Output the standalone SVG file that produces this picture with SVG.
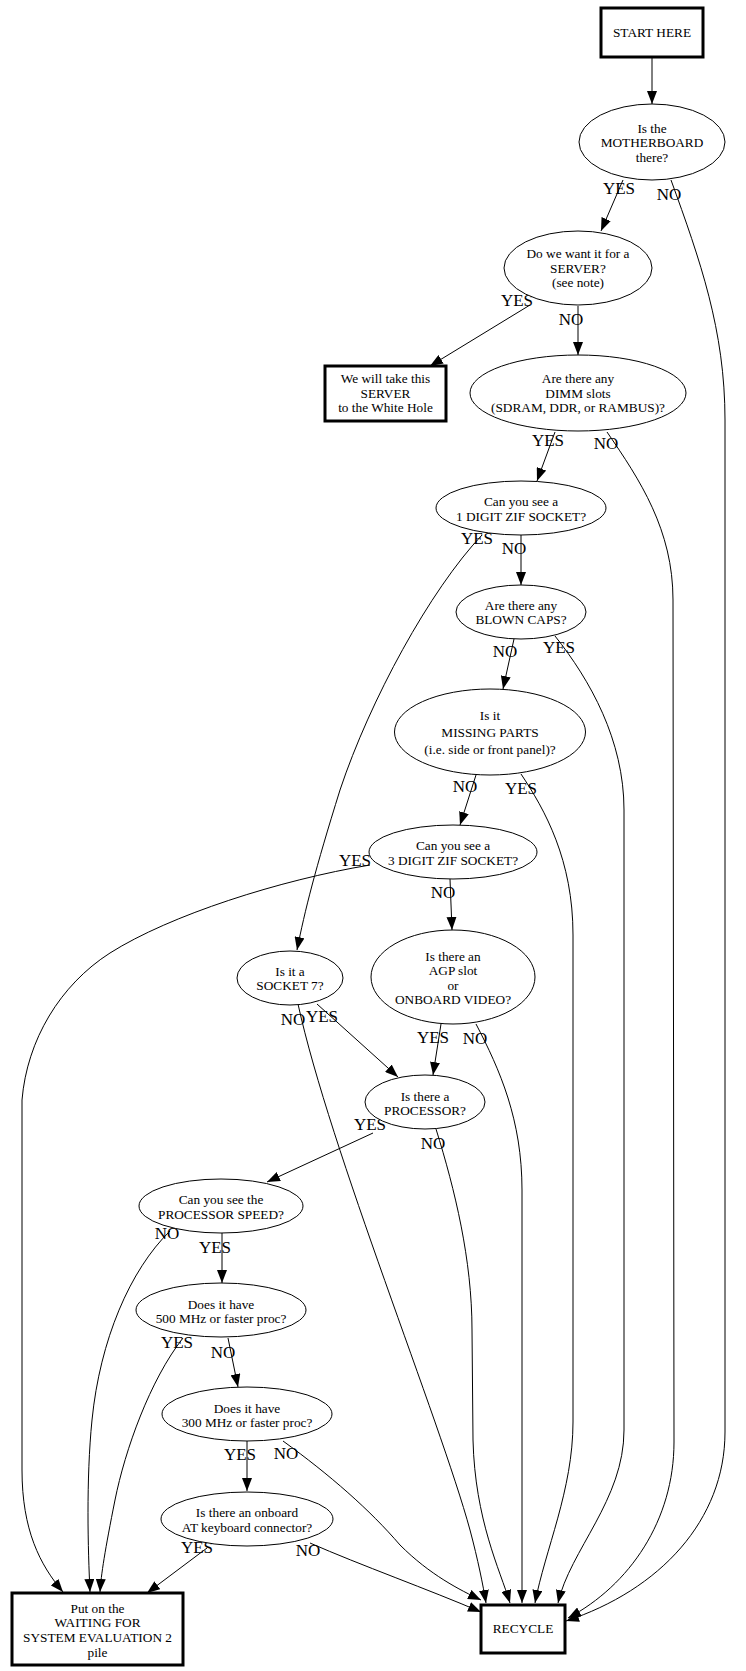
<svg xmlns="http://www.w3.org/2000/svg" width="746" height="1671" viewBox="0 0 746 1671">
<style>
.n text{font-family:"Liberation Serif","Times New Roman",serif;font-size:13.3px;text-anchor:middle;fill:#000}
.e{fill:none;stroke:#000;stroke-width:1}
.box{fill:#fff;stroke:#000;stroke-width:3}
.ell{fill:#fff;stroke:#000;stroke-width:1}
.lbl{font-family:"Liberation Serif","Times New Roman",serif;font-size:17px;text-anchor:middle;fill:#000}
</style>
<defs>
<marker id="ah" markerUnits="userSpaceOnUse" markerWidth="13" markerHeight="10" viewBox="0 0 13 10" refX="13" refY="5" orient="auto">
<path d="M0,0 L13,5 L0,10 z" fill="#000"/>
</marker>
</defs>
<rect width="746" height="1671" fill="#fff"/>
<g id="connectors">
<path class="e" marker-end="url(#ah)" d="M652,57 L652,104"/>
<path class="e" marker-end="url(#ah)" d="M623,180 L601,231"/>
<path class="e" marker-end="url(#ah)" d="M671,180 C700,260 725,330 725,420 L725,1432 C725,1520 660,1590 566,1621"/>
<path class="e" marker-end="url(#ah)" d="M530,305 L430,366"/>
<path class="e" marker-end="url(#ah)" d="M578,306 L578,355"/>
<path class="e" marker-end="url(#ah)" d="M555,432 L537,481"/>
<path class="e" marker-end="url(#ah)" d="M607,432 C640,480 673,530 673,600 L674,1442 C674,1520 630,1585 568,1618"/>
<path class="e" marker-end="url(#ah)" d="M482,535 C430,590 370,700 340,790 C315,870 305,910 297,950"/>
<path class="e" marker-end="url(#ah)" d="M521,535 L521,585"/>
<path class="e" marker-end="url(#ah)" d="M514,639 L503,689"/>
<path class="e" marker-end="url(#ah)" d="M555,636 C590,680 624,740 624,810 L624,1430 C624,1500 570,1550 558,1603"/>
<path class="e" marker-end="url(#ah)" d="M476,775 L460,825"/>
<path class="e" marker-end="url(#ah)" d="M521,774 C545,810 573,860 573,935 L573,1422 C573,1490 545,1550 535,1603"/>
<path class="e" marker-end="url(#ah)" d="M370,865 C280,880 170,915 110,953 C60,985 27,1040 22,1100 L22,1470 C22,1530 40,1565 63,1592"/>
<path class="e" marker-end="url(#ah)" d="M450,879 L452,930"/>
<path class="e" marker-end="url(#ah)" d="M317,1004 L398,1077"/>
<path class="e" marker-end="url(#ah)" d="M298,1004 C330,1150 440,1420 470,1530 C478,1560 483,1585 486,1603"/>
<path class="e" marker-end="url(#ah)" d="M441,1024 L433,1075"/>
<path class="e" marker-end="url(#ah)" d="M476,1024 C500,1070 522,1120 522,1190 L522,1603"/>
<path class="e" marker-end="url(#ah)" d="M373,1133 L267,1182"/>
<path class="e" marker-end="url(#ah)" d="M436,1129 C455,1190 472,1260 472,1330 L473,1440 C475,1520 500,1570 510,1603"/>
<path class="e" marker-end="url(#ah)" d="M222,1233 L222,1283"/>
<path class="e" marker-end="url(#ah)" d="M170,1231 C130,1270 100,1340 92,1420 C86,1480 88,1550 90,1592"/>
<path class="e" marker-end="url(#ah)" d="M183,1338 C150,1380 125,1450 115,1500 C105,1550 101,1575 100,1592"/>
<path class="e" marker-end="url(#ah)" d="M228,1338 L238,1387"/>
<path class="e" marker-end="url(#ah)" d="M247,1441 L247,1491"/>
<path class="e" marker-end="url(#ah)" d="M283,1441 C330,1475 370,1510 400,1545 C430,1575 460,1590 481,1600"/>
<path class="e" marker-end="url(#ah)" d="M207,1548 L147,1593"/>
<path class="e" marker-end="url(#ah)" d="M310,1543 C360,1565 430,1590 481,1612"/>
<g>
<text class="lbl" x="619" y="194">YES</text>
<text class="lbl" x="669" y="200">NO</text>
<text class="lbl" x="517" y="306">YES</text>
<text class="lbl" x="571" y="325">NO</text>
<text class="lbl" x="548" y="446">YES</text>
<text class="lbl" x="606" y="449">NO</text>
<text class="lbl" x="477" y="544">YES</text>
<text class="lbl" x="514" y="554">NO</text>
<text class="lbl" x="505" y="657">NO</text>
<text class="lbl" x="559" y="653">YES</text>
<text class="lbl" x="465" y="792">NO</text>
<text class="lbl" x="521" y="794">YES</text>
<text class="lbl" x="355" y="866">YES</text>
<text class="lbl" x="443" y="898">NO</text>
<text class="lbl" x="433" y="1043">YES</text>
<text class="lbl" x="475" y="1044">NO</text>
<text class="lbl" x="293" y="1025">NO</text>
<text class="lbl" x="322" y="1022">YES</text>
<text class="lbl" x="370" y="1130">YES</text>
<text class="lbl" x="433" y="1149">NO</text>
<text class="lbl" x="167" y="1239">NO</text>
<text class="lbl" x="215" y="1253">YES</text>
<text class="lbl" x="177" y="1348">YES</text>
<text class="lbl" x="223" y="1358">NO</text>
<text class="lbl" x="240" y="1460">YES</text>
<text class="lbl" x="286" y="1459">NO</text>
<text class="lbl" x="197" y="1553">YES</text>
<text class="lbl" x="308" y="1556">NO</text>
</g>
</g>
<g id="start" class="n"><rect class="box" x="601" y="8" width="102" height="49"/><text x="652" y="37">START HERE</text></g>
<g id="motherboard" class="n"><ellipse class="ell" cx="652" cy="142" rx="73" ry="38"/><text x="652" y="132.5">Is the</text><text x="652" y="146.5">MOTHERBOARD</text><text x="652" y="161.5">there?</text></g>
<g id="server" class="n"><ellipse class="ell" cx="578" cy="268" rx="74" ry="37"/><text x="578" y="257.5">Do we want it for a</text><text x="578" y="272.5">SERVER?</text><text x="578" y="286.5">(see note)</text></g>
<g id="whitehole" class="n"><rect class="box" x="325" y="366" width="121" height="55"/><text x="385.5" y="382.5">We will take this</text><text x="385.5" y="397.5">SERVER</text><text x="385.5" y="411.5">to the White Hole</text></g>
<g id="dimm" class="n"><ellipse class="ell" cx="578" cy="393" rx="108" ry="38"/><text x="578" y="382.5">Are there any</text><text x="578" y="397.5">DIMM slots</text><text x="578" y="411.5">(SDRAM, DDR, or RAMBUS)?</text></g>
<g id="zif1" class="n"><ellipse class="ell" cx="521" cy="508" rx="85" ry="27"/><text x="521" y="505.5">Can you see a</text><text x="521" y="520.5">1 DIGIT ZIF SOCKET?</text></g>
<g id="caps" class="n"><ellipse class="ell" cx="521" cy="612" rx="65" ry="27"/><text x="521" y="609.5">Are there any</text><text x="521" y="623.5">BLOWN CAPS?</text></g>
<g id="missing" class="n"><ellipse class="ell" cx="490" cy="732" rx="95.5" ry="43"/><text x="490" y="719.5">Is it</text><text x="490" y="736.5">MISSING PARTS</text><text x="490" y="753.5">(i.e. side or front panel)?</text></g>
<g id="zif3" class="n"><ellipse class="ell" cx="453" cy="852" rx="84" ry="27"/><text x="453" y="849.5">Can you see a</text><text x="453" y="864.5">3 DIGIT ZIF SOCKET?</text></g>
<g id="agp" class="n"><ellipse class="ell" cx="453" cy="977" rx="82" ry="47"/><text x="453" y="960.5">Is there an</text><text x="453" y="974.5">AGP slot</text><text x="453" y="989.5">or</text><text x="453" y="1003.5">ONBOARD VIDEO?</text></g>
<g id="socket7" class="n"><ellipse class="ell" cx="290" cy="978" rx="53" ry="27"/><text x="290" y="975.5">Is it a</text><text x="290" y="989.5">SOCKET 7?</text></g>
<g id="processor" class="n"><ellipse class="ell" cx="425" cy="1102" rx="60" ry="27"/><text x="425" y="1100.5">Is there a</text><text x="425" y="1114.5">PROCESSOR?</text></g>
<g id="speed" class="n"><ellipse class="ell" cx="221" cy="1206" rx="82" ry="27"/><text x="221" y="1203.5">Can you see the</text><text x="221" y="1218.5">PROCESSOR SPEED?</text></g>
<g id="mhz500" class="n"><ellipse class="ell" cx="221" cy="1310" rx="85" ry="27"/><text x="221" y="1308.5">Does it have</text><text x="221" y="1322.5">500 MHz or faster proc?</text></g>
<g id="mhz300" class="n"><ellipse class="ell" cx="247" cy="1414" rx="85" ry="27"/><text x="247" y="1412.5">Does it have</text><text x="247" y="1426.5">300 MHz or faster proc?</text></g>
<g id="atkbd" class="n"><ellipse class="ell" cx="247" cy="1519" rx="86" ry="27"/><text x="247" y="1516.5">Is there an onboard</text><text x="247" y="1531.5">AT keyboard connector?</text></g>
<g id="waiting" class="n"><rect class="box" x="12" y="1593" width="171" height="72"/><text x="97.5" y="1612.5">Put on the</text><text x="97.5" y="1626.5">WAITING FOR</text><text x="97.5" y="1641.5">SYSTEM EVALUATION 2</text><text x="97.5" y="1656.5">pile</text></g>
<g id="recycle" class="n"><rect class="box" x="481" y="1605" width="84" height="48"/><text x="523" y="1632.5">RECYCLE</text></g>
</svg>
